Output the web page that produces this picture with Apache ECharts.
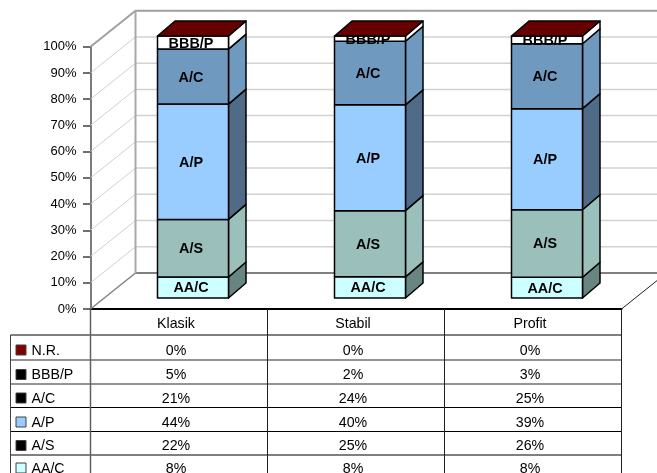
<!DOCTYPE html>
<html>
<head>
<meta charset="utf-8">
<style>
  html, body { margin: 0; padding: 0; background: #fff; }
  #chart { width: 657px; height: 473px; }
</style>
<script src="https://cdn.jsdelivr.net/npm/echarts@6/dist/echarts.min.js"></script>
</head>
<body>
<div id="chart"></div>
<script>
const categories = ['Klasik', 'Stabil', 'Profit']
const yTicks = [0, 10, 20, 30, 40, 50, 60, 70, 80, 90, 100]

// bottom to top, as stacked
const seriesNames = ['AA/C', 'A/S', 'A/P', 'A/C', 'BBB/P', 'N.R.']
const aaC = [8, 8, 8]
const aS = [22, 25, 26]
const aP = [44, 40, 39]
const aC = [21, 24, 25]
const bbbP = [5, 2, 3]
const nR = [0, 0, 0]
const seriesValues = [aaC, aS, aP, aC, bbbP, nR]

const frontColors = ['#ccffff', '#9bbfbb', '#99ccff', '#7099bf', '#ffffff', '#800000']
const sideColors = ['#688582', '#9bbfbb', '#4f6b87', '#7099bf', '#ffffff', '#800000']
const swatchColors = ['#ccffff', '#000000', '#99ccff', '#000000', '#000000', '#800000']
const topColor = '#660000'

const font = '"Liberation Sans", Arial, sans-serif'
const wallDx = 45
const wallDy = -36
const barDx = 17.5
const barDy = -15
const barWidth = 71

const tableLeft = 10.5
const axisLeft = 90.5
const axisBottom = 309
const colWidth = 177
const tableRight = axisLeft + colWidth * 3
const rowTops = [335, 360, 384, 407.5, 431.5, 455]
const rowLineColors = ['#000', '#707070', '#707070', '#000', '#000', '#000']
const rowLineWidths = [1, 1.5, 1.5, 1, 1, 1]
const rowTextYs = [351, 375.5, 399, 423, 446.5, 469]
const swatchYs = [350, 374.5, 398, 422, 445.5, 468]

// cumulative share of each segment, per category
function stackRows(index) {
  const rows = []
  categories.forEach((cat, c) => {
    const total = seriesValues.reduce((sum, s) => sum + s[c], 0)
    let before = 0
    for (let i = 0; i < index; i++) before += seriesValues[i][c]
    rows.push([c, before / total * 100, (before + seriesValues[index][c]) / total * 100])
  })
  return rows
}

function renderWall(params, api) {
  const y = api.coord([0, api.value(0)])[1]
  const box = params.coordSys
  const isFloor = api.value(0) === 0
  return {
    type: 'group',
    children: [
      {
        type: 'line',
        shape: { x1: box.x, y1: y, x2: box.x + wallDx, y2: y + wallDy },
        style: { stroke: isFloor ? '#808080' : '#d0d0d0', lineWidth: isFloor ? 1.5 : 1 }
      },
      {
        type: 'line',
        shape: { x1: box.x + wallDx, y1: y + wallDy, x2: box.x + box.width + wallDx, y2: y + wallDy },
        style: { stroke: isFloor ? '#808080' : '#d2d2d2', lineWidth: isFloor ? 2 : 1.5 }
      }
    ]
  }
}

function makeRenderBar(index) {
  return function (params, api) {
    const low = api.coord([api.value(0), api.value(1)])
    const high = api.coord([api.value(0), api.value(2)])
    const left = low[0] - barWidth / 2
    const right = low[0] + barWidth / 2
    const border = { stroke: '#000', lineWidth: 1.5, lineJoin: 'round' }
    const children = []
    if (index < seriesNames.length - 1) {
      children.push({
        type: 'polygon',
        shape: { points: [[right, low[1]], [right + barDx, low[1] + barDy], [right + barDx, high[1] + barDy], [right, high[1]]] },
        style: Object.assign({ fill: sideColors[index] }, border)
      })
      children.push({
        type: 'rect',
        shape: { x: left, y: high[1], width: barWidth, height: low[1] - high[1] },
        style: Object.assign({ fill: frontColors[index] }, border)
      })
      children.push({
        type: 'text',
        style: {
          x: low[0] - 2,
          y: (low[1] + high[1]) / 2 + 1,
          text: seriesNames[index],
          font: 'bold 14.4px ' + font,
          fill: '#000',
          align: 'center',
          verticalAlign: 'middle'
        }
      })
    } else {
      children.push({
        type: 'polygon',
        shape: { points: [[left, high[1]], [left + barDx, high[1] + barDy], [right + barDx, high[1] + barDy], [right, high[1]]] },
        style: Object.assign({ fill: topColor }, border)
      })
    }
    return { type: 'group', children: children }
  }
}

function tableGraphics() {
  const items = []
  const line = (x1, y1, x2, y2, stroke, width) => items.push({
    type: 'line',
    z: 1,
    shape: { x1, y1, x2, y2 },
    style: { stroke: stroke, lineWidth: width }
  })
  rowTops.forEach((y, r) => line(tableLeft, y, tableRight, y, rowLineColors[r], rowLineWidths[r]))
  line(tableLeft, rowTops[0], tableLeft, 473, '#404040', 1)
  line(axisLeft, axisBottom, axisLeft, 473, '#606060', 1.5)
  categories.forEach((cat, c) => {
    const x = axisLeft + colWidth * (c + 1)
    line(x, axisBottom, x, 473, '#202020', 1)
  })
  line(tableRight, axisBottom, tableRight + wallDx, axisBottom + wallDy, '#202020', 1)

  rowTops.forEach((top, r) => {
    const index = seriesNames.length - 1 - r
    const mid = rowTextYs[r]
    items.push({
      type: 'rect',
      z: 2,
      shape: { x: 16, y: swatchYs[r] - 5, width: 10, height: 10 },
      style: { fill: swatchColors[index], stroke: '#404040', lineWidth: 1 }
    })
    items.push({
      type: 'text',
      z: 2,
      style: { x: 31.5, y: mid, text: seriesNames[index], font: '14.2px ' + font, fill: '#000', verticalAlign: 'middle' }
    })
    categories.forEach((cat, c) => {
      items.push({
        type: 'text',
        z: 2,
        style: {
          x: axisLeft + colWidth * (c + 0.5) - 3,
          y: mid,
          text: seriesValues[index][c] + '%',
          font: '14.2px ' + font,
          fill: '#000',
          align: 'center',
          verticalAlign: 'middle'
        }
      })
    })
  })
  return items
}

const chart = echarts.init(document.getElementById('chart'), null, { renderer: 'canvas' })

const barSeries = seriesNames.map((name, i) => ({
  name: name,
  type: 'custom',
  xAxisIndex: 1,
  yAxisIndex: 1,
  clip: false,
  z: 5 + i,
  renderItem: makeRenderBar(i),
  data: stackRows(i)
}))

chart.setOption({
  animation: false,
  backgroundColor: '#fff',
  textStyle: { fontFamily: font },
  grid: [
    // front plane of the chart box, carries the axes
    { left: axisLeft, top: 46.7, width: colWidth * 3, height: axisBottom - 46.7 },
    // plane of the bars' front faces
    { left: axisLeft + 14, top: 36, width: colWidth * 3, height: 262 }
  ],
  xAxis: [
    {
      type: 'category',
      gridIndex: 0,
      data: categories,
      axisLine: { lineStyle: { color: '#000', width: 2 } },
      axisTick: { show: false },
      axisLabel: { color: '#000', fontSize: 14.2, margin: 8, padding: [0, 6, 0, 0], fontFamily: font }
    },
    { type: 'category', gridIndex: 1, data: categories, show: false }
  ],
  yAxis: [
    {
      type: 'value',
      gridIndex: 0,
      min: 0,
      max: 100,
      interval: 10,
      axisLine: { show: true, lineStyle: { color: '#505050', width: 1.5 } },
      axisTick: { show: true, length: 7.5, lineStyle: { color: '#404040', width: 1.5 } },
      splitLine: { show: false },
      axisLabel: { color: '#000', fontSize: 13, margin: 14, padding: [4, 0, 0, 0], formatter: '{value}%', fontFamily: font }
    },
    { type: 'value', gridIndex: 1, min: 0, max: 100, show: false, splitLine: { show: false } }
  ],
  graphic: tableGraphics(),
  series: [
    {
      name: 'wall',
      type: 'custom',
      xAxisIndex: 0,
      yAxisIndex: 0,
      clip: false,
      z: 1,
      renderItem: renderWall,
      data: yTicks.map(v => [v])
    },
    {
      name: 'wallEdge',
      type: 'custom',
      xAxisIndex: 0,
      yAxisIndex: 0,
      clip: false,
      z: 2,
      renderItem: function (params, api) {
        const box = params.coordSys
        return {
          type: 'group',
          children: [
            {
              type: 'polyline',
              shape: { points: [[box.x, box.y], [box.x + wallDx, box.y + wallDy], [box.x + box.width + wallDx, box.y + wallDy]] },
              style: { fill: null, stroke: '#a0a0a0', lineWidth: 2 }
            },
            {
              type: 'line',
              shape: { x1: box.x + wallDx, y1: box.y + wallDy, x2: box.x + wallDx, y2: box.y + box.height + wallDy },
              style: { stroke: '#a8a8a8', lineWidth: 2 }
            }
          ]
        }
      },
      data: [[0]]
    }
  ].concat(barSeries)
})
</script>
</body>
</html>
